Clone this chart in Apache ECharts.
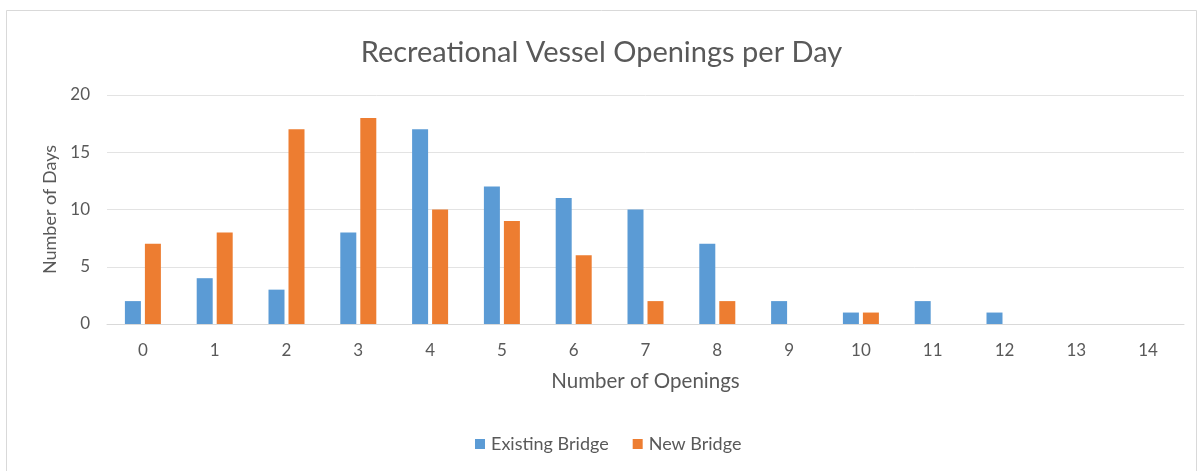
<!DOCTYPE html>
<html>
<head>
<meta charset="utf-8">
<script src="https://cdn.jsdelivr.net/npm/echarts@6/dist/echarts.min.js"></script>
<style>
html,body{margin:0;padding:0;background:#fff;}
#chart{width:1203px;height:471px;}
</style>
</head>
<body>
<div id="chart"></div>
<script>
const categories = ['0','1','2','3','4','5','6','7','8','9','10','11','12','13','14'];
const existingBridge = [2,4,3,8,17,12,11,10,7,2,1,2,1,0,0];
const newBridge = [7,8,17,18,10,9,6,2,2,0,1,0,0,0,0];
const seriesNames = ['Existing Bridge','New Bridge'];
const titleText = 'Recreational Vessel Openings per Day';
const xName = 'Number of Openings';
const yName = 'Number of Days';

const FONT = 'Lato';
const TXT = '#595959';
const chart = echarts.init(document.getElementById('chart'));
chart.setOption({
  animation:false,
  backgroundColor:'#fff',
  title:{text:titleText,left:'center',top:33,textStyle:{fontFamily:FONT,fontSize:29,fontWeight:'normal',color:TXT}},
  legend:{data:seriesNames,top:430,left:470,icon:'rect',itemWidth:10,itemHeight:10,itemGap:24,
    textStyle:{fontFamily:FONT,fontSize:18,color:TXT,padding:[0,0,0,1]}},
  graphic:[{type:'rect',shape:{x:6.5,y:10.5,width:1190,height:480},style:{fill:'none',stroke:'#d9d9d9',lineWidth:1},z:-1,silent:true}],
  grid:{left:107,right:19,top:95,bottom:147,containLabel:false},
  xAxis:{type:'category',data:categories,name:xName,nameLocation:'middle',nameGap:47,
    nameTextStyle:{fontFamily:FONT,fontSize:20.5,color:TXT},
    axisLine:{lineStyle:{color:'#d9d9d9'}},axisTick:{show:false},
    axisLabel:{fontFamily:FONT,fontSize:17,color:TXT,margin:18}},
  yAxis:{type:'value',min:0,max:20,interval:5,name:yName,nameLocation:'middle',nameGap:48,
    nameTextStyle:{fontFamily:FONT,fontSize:18,color:TXT},
    axisLine:{show:false},axisTick:{show:false},
    splitLine:{lineStyle:{color:'#e3e3e3'}},
    axisLabel:{fontFamily:FONT,fontSize:17,color:TXT,margin:17}},
  series:[
    {name:seriesNames[0],type:'bar',data:existingBridge,barWidth:16,barGap:'25%',itemStyle:{color:'#5B9BD5'}},
    {name:seriesNames[1],type:'bar',data:newBridge,barWidth:16,barGap:'25%',itemStyle:{color:'#ED7D31'}}
  ]
});
</script>
</body>
</html>
